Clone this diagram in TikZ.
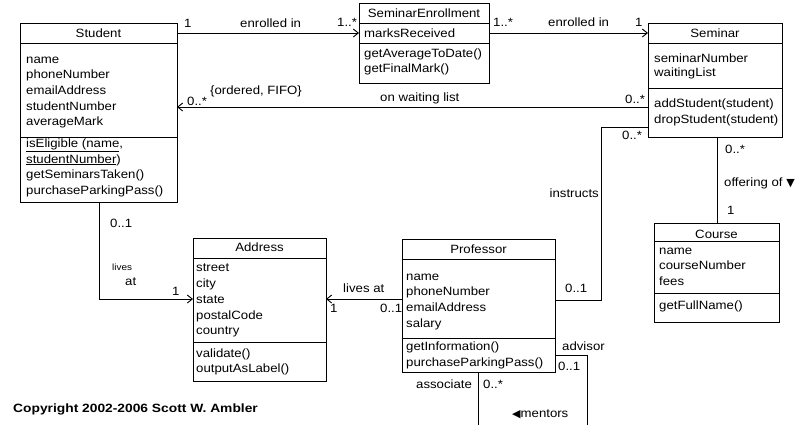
\documentclass[tikz,border=0pt]{standalone}
\usepackage{fontspec}
\setmainfont[FakeStretch=1.1]{Liberation Sans}
\newfontfamily\symfont{DejaVu Sans}
\newfontfamily\copyfont[FakeStretch=1.15]{Liberation Sans}
\usetikzlibrary{arrows.meta}
\tikzset{
  classbox/.style={draw, line width=0.9pt, anchor=north west, inner sep=0pt, outer sep=0pt},
  txt/.style={inner sep=0pt, anchor=base west, font=\fontsize{12}{14}\selectfont},
  hdr/.style={inner sep=0pt, anchor=base, font=\fontsize{12}{14}\selectfont},
  lab/.style={inner sep=0pt, anchor=base west, font=\fontsize{12}{14}\selectfont},
  smalllab/.style={inner sep=0pt, anchor=base west, font=\fontsize{9}{11}\selectfont},
  ln/.style={line width=0.9pt},
  assoc/.style={line width=0.9pt, -{Straight Barb[length=5pt,width=8pt]}},
}
\newcommand\umlbox[7]{%
  \node[classbox, minimum width={#4-#2}, minimum height={#5-#3}] (#1) at (#2,#3) {};
  \draw[ln] (#1.west |- 0,#6) -- (#1.east |- 0,#6);
  \draw[ln] (#1.west |- 0,#7) -- (#1.east |- 0,#7);}
\begin{document}
\begin{tikzpicture}[x=1pt,y=-1pt]
\useasboundingbox[fill=white] (0,0) rectangle (806,424);
\clip (0,0) rectangle (806,424);

% ---- class boxes
\umlbox{student}{20}{23}{177}{202}{43}{137}
\umlbox{se}{359}{3}{489}{83}{23}{43}
\umlbox{seminar}{648}{23}{782}{137}{43}{88}
\umlbox{course}{654}{223}{779}{322}{241}{293}
\umlbox{address}{193}{238}{326}{381}{258}{342}
\umlbox{prof}{402}{239}{555}{372}{259}{338}

% ---- Student
\node[hdr] (stH) at (98.5,37) {Student};
\node[txt] (st1) at (26,63) {name};
\node[txt] (st2) at (26,78) {phoneNumber};
\node[txt] (st3) at (26,94) {emailAddress};
\node[txt] (st4) at (26,110) {studentNumber};
\node[txt] (st5) at (26,125) {averageMark};
\node[txt] (st6) at (26,147) {\underline{isEligible (name},};
\node[txt] (st7) at (26,163) {\underline{studentNumber})};
\node[txt] (st8) at (26,178) {getSeminarsTaken()};
\node[txt] (st9) at (26,194) {purchaseParkingPass()};

% ---- SeminarEnrollment
\node[hdr] (seH) at (424,17) {SeminarEnrollment};
\node[txt] (se1) at (364,37) {marksReceived};
\node[txt] (se2) at (364,57) {getAverageToDate()};
\node[txt] (se3) at (364,72) {getFinalMark()};

% ---- Seminar
\node[hdr] (smH) at (715,37) {Seminar};
\node[txt] (sm1) at (654,62) {seminarNumber};
\node[txt] (sm2) at (654,76) {waitingList};
\node[txt] (sm3) at (654,107) {addStudent(student)};
\node[txt] (sm4) at (654,123) {dropStudent(student)};

% ---- Course
\node[hdr] (coH) at (716.5,238) {Course};
\node[txt] (co1) at (659,254) {name};
\node[txt] (co2) at (659,269) {courseNumber};
\node[txt] (co3) at (659,285) {fees};
\node[txt] (co4) at (659,309) {getFullName()};

% ---- Address
\node[hdr] (adH) at (259.5,251) {Address};
\node[txt] (ad1) at (196,271) {street};
\node[txt] (ad2) at (196,287) {city};
\node[txt] (ad3) at (196,303) {state};
\node[txt] (ad4) at (196,319) {postalCode};
\node[txt] (ad5) at (196,334) {country};
\node[txt] (ad6) at (196,357) {validate()};
\node[txt] (ad7) at (196,372) {outputAsLabel()};

% ---- Professor
\node[hdr] (prH) at (478.5,253) {Professor};
\node[txt] (pr1) at (406,280) {name};
\node[txt] (pr2) at (406,295) {phoneNumber};
\node[txt] (pr3) at (406,311) {emailAddress};
\node[txt] (pr4) at (406,327) {salary};
\node[txt] (pr5) at (406,350) {getInformation()};
\node[txt] (pr6) at (406,366) {purchaseParkingPass()};

% ---- connectors
\draw[assoc] (student.east |- 0,33) -- (se.west |- 0,33);
\draw[assoc] (se.east |- 0,33) -- (seminar.west |- 0,33);
\draw[assoc] (seminar.west |- 0,107) -- (student.east |- 0,107);
\draw[ln] (seminar.west |- 0,127) -- (601,127) -- (601,300) -- (prof.east |- 0,300);
\draw[ln] (seminar.south -| 717,0) -- (course.north -| 717,0);
\draw[assoc] (student.south -| 99,0) |- (address.west |- 0,299);
\draw[assoc] (prof.west |- 0,299) -- (address.east |- 0,299);
\draw[ln] (prof.east |- 0,355) -- (587,355) -- (587,440) -- (478,440) -- (prof.south -| 478,0);

% ---- connector labels
\node[lab] (l1) at (184,27) {1};
\node[lab] (l2) at (240,27) {enrolled in};
\node[lab] (l3) at (337,26) {1..*};
\node[lab] (l4) at (493,26) {1..*};
\node[lab] (l5) at (548,26) {enrolled in};
\node[lab] (l6) at (635,26) {1};
\node[lab] (l7) at (210,94) {\{ordered, FIFO\}};
\node[lab] (l8) at (187,105) {0..*};
\node[lab] (l9) at (380,101) {on waiting list};
\node[lab] (l10) at (625,103) {0..*};
\node[lab] (l11) at (622,139) {0..*};
\node[lab, anchor=base east] (l12) at (599,197) {instructs};
\node[lab] (l13) at (565,292) {0..1};
\node[lab] (l14) at (725,153) {0..*};
\node[lab] (l15) at (724,186) {offering of {\symfont\fontsize{11}{13}\selectfont ▼}};
\node[lab] (l16) at (727,214) {1};
\node[lab] (l17) at (110,227) {0..1};
\node[smalllab] (l18) at (112,270) {lives};
\node[lab] (l19) at (125,285) {at};
\node[lab] (l20) at (172,295) {1};
\node[lab] (l21) at (343,292) {lives at};
\node[lab] (l22) at (330,312) {1};
\node[lab] (l23) at (380,312) {0..1};
\node[lab] (l24) at (562,350) {advisor};
\node[lab] (l25) at (558,370) {0..1};
\node[lab] (l26) at (416,388) {associate};
\node[lab] (l27) at (483,388) {0..*};
\node[lab] (l28) at (512,417) {{\symfont\fontsize{11}{13}\selectfont ◀}mentors};

\node[inner sep=0pt, anchor=base west, font=\copyfont\bfseries\fontsize{12}{14}\selectfont] (copy) at (13,412) {Copyright 2002-2006 Scott W. Ambler};
\end{tikzpicture}
\end{document}
